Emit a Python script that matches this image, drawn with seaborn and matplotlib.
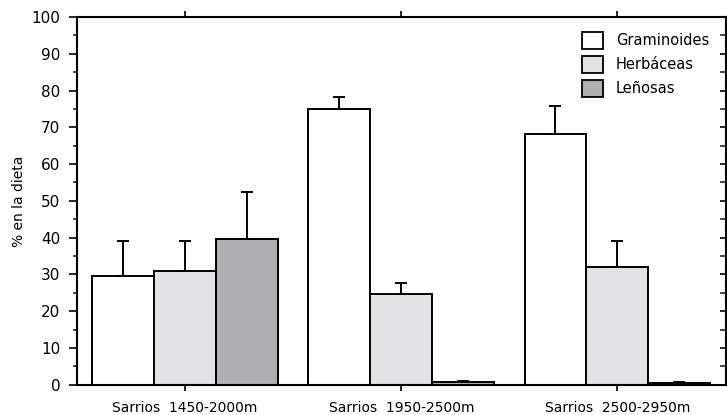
import matplotlib
matplotlib.use("Agg")
import matplotlib.pyplot as plt
from matplotlib.ticker import MultipleLocator
from matplotlib.patches import Patch
import seaborn as sns
import pandas as pd

# Diet composition of chamois (sarrios) by altitude band
groups = ["Sarrios  1450-2000m", "Sarrios  1950-2500m", "Sarrios  2500-2950m"]
types = ["Graminoides", "Herbáceas", "Leñosas"]
graminoides = [29.5, 75.0, 68.2]
herbaceas = [31.0, 24.8, 32.0]
lenosas = [39.7, 0.6, 0.4]
err_graminoides = [9.6, 3.3, 7.7]
err_herbaceas = [8.1, 2.9, 7.2]
err_lenosas = [12.8, 0.4, 0.2]
colors = ["#ffffff", "#e2e2e4", "#b0b0b2"]

rows = []
for t, vals, errs in zip(types, [graminoides, herbaceas, lenosas],
                         [err_graminoides, err_herbaceas, err_lenosas]):
    for g, v, e in zip(groups, vals, errs):
        rows.append({"grupo": g, "tipo": t, "valor": v, "err": e})
df = pd.DataFrame(rows)

sns.set_style("white")
plt.rcParams["font.family"] = ["DejaVu Sans"]
plt.rcParams["text.color"] = "black"
plt.rcParams["axes.labelcolor"] = "black"

fig, ax = plt.subplots(figsize=(7.27, 4.15), dpi=100)
fig.subplots_adjust(left=0.106, right=0.998, top=0.959, bottom=0.073)

sns.barplot(data=df, x="grupo", y="valor", hue="tipo", order=groups,
            hue_order=types, palette=colors, width=0.86, errorbar=None,
            edgecolor="black", linewidth=1.4, legend=False, ax=ax)

# one-sided error bars on top of each bar
for patch, (_, row) in zip(ax.patches, df.iterrows()):
    cx = patch.get_x() + patch.get_width() / 2
    ax.errorbar(cx, row["valor"], yerr=[[0], [row["err"]]], fmt="none",
                ecolor="black", elinewidth=1.4, capsize=4.5, capthick=1.4)

ax.set_xlim(-0.5, 2.5)
ax.set_ylim(0, 100)
ax.yaxis.set_major_locator(MultipleLocator(10))
ax.yaxis.set_minor_locator(MultipleLocator(5))
ax.set_xlabel("")
ax.set_ylabel("% en la dieta", fontsize=10, labelpad=4, color="black")

for side in ["left", "right", "top", "bottom"]:
    ax.spines[side].set_visible(True)
    ax.spines[side].set_color("black")
    ax.spines[side].set_linewidth(1.5)

ax.tick_params(axis="y", which="major", left=True, right=True, direction="out",
               length=6, width=1.2, labelsize=11, pad=6, colors="black")
ax.tick_params(axis="y", which="minor", left=True, right=True, direction="out",
               length=3, width=1.2)
ax.tick_params(axis="x", which="major", bottom=True, top=True, direction="out",
               length=4, width=1.2, labelsize=10, pad=8, colors="black")
# right ticks point inward
for tick in ax.yaxis.get_major_ticks() + ax.yaxis.get_minor_ticks():
    tick.tick2line.set_marker(matplotlib.lines.TICKLEFT)
    tick.tick2line.set_markersize(4)

handles = [Patch(facecolor=c, edgecolor="black", linewidth=1.3) for c in colors]
leg = ax.legend(handles, types, loc="upper right", frameon=False, fontsize=10.5,
                handlelength=1.45, handleheight=1.45, handletextpad=0.9,
                labelspacing=0.45, bbox_to_anchor=(0.995, 0.995))
for txt in leg.get_texts():
    txt.set_color("black")

fig.savefig("out.png", dpi=100)
